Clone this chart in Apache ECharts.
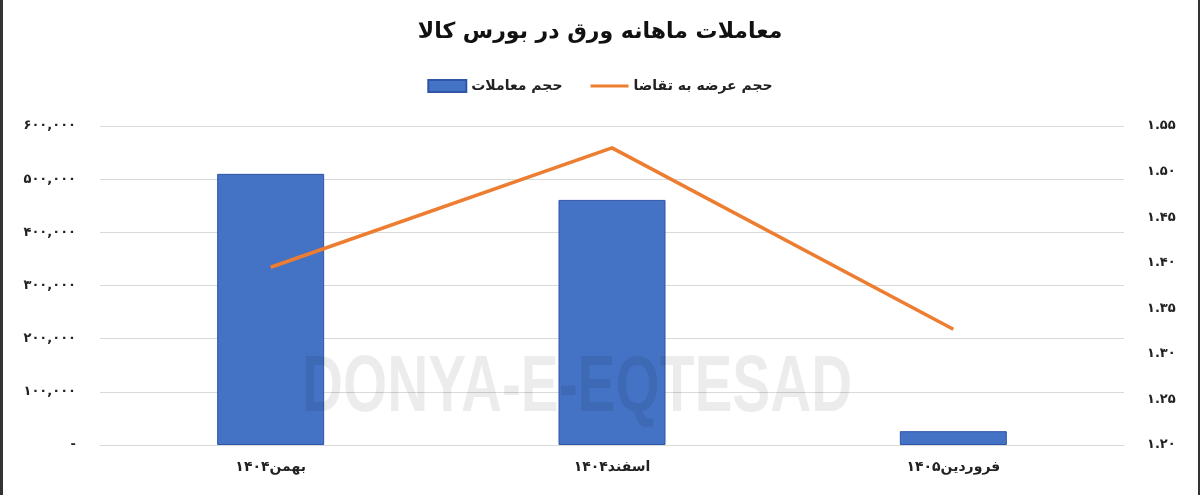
<!DOCTYPE html>
<html><head><meta charset="utf-8">
<script src="https://cdn.jsdelivr.net/npm/echarts@6/dist/echarts.min.js"></script>
<style>html,body{margin:0;padding:0;background:#fff}#c{width:1200px;height:495px}</style>
</head><body><div id="c"></div>
<script>
const title = 'معاملات ماهانه ورق در بورس کالا';
const categories = ['بهمن۱۴۰۴', 'اسفند۱۴۰۴', 'فروردین۱۴۰۵'];
const volumeName = 'حجم معاملات';
const ratioName = 'حجم عرضه به تقاضا';
const volumeValues = [510000, 461000, 26000];
const ratioValues = [1.395, 1.526, 1.327];
const leftTicks = {min: 0, max: 600000, interval: 100000};
const rightTicks = {min: 1.2, max: 1.55, interval: 0.05};
const watermark = 'DONYA-E-EQTESAD';

const fa = s => String(s).replace(/\d/g, d => '۰۱۲۳۴۵۶۷۸۹'[d]);
const FONT = "'DejaVu Sans', 'Noto Sans', sans-serif";
const chart = echarts.init(document.getElementById('c'));
chart.setOption({
  backgroundColor: '#fff',
  animation: false,
  textStyle: {fontFamily: FONT},
  title: {text: title, left: 'center', top: 16,
    textStyle: {fontFamily: FONT, fontSize: 22, fontWeight: 'bold', color: '#111'}},
  legend: {top: 74, left: 'center', itemGap: 28, itemWidth: 38, itemHeight: 12,
    textStyle: {fontFamily: FONT, fontSize: 14, fontWeight: 'bold', color: '#222'},
    data: [{name: volumeName, icon: 'rect'},
           {name: ratioName, icon: 'path://M0,0H38V3H0Z', itemStyle: {color: '#ed7d31'}}]},
  grid: {left: 100, right: 76, top: 126, bottom: 50},
  xAxis: {type: 'category', data: categories,
    axisLine: {lineStyle: {color: '#d9d9d9'}}, axisTick: {show: false},
    axisLabel: {margin: 15, fontSize: 14, fontWeight: 'bold', color: '#222'}},
  yAxis: [
    {type: 'value', min: leftTicks.min, max: leftTicks.max, interval: leftTicks.interval,
     axisLine: {show: false}, axisTick: {show: false},
     splitLine: {lineStyle: {color: '#d9d9d9'}},
     axisLabel: {margin: 24, fontSize: 13, fontWeight: 'bold', color: '#222',
       formatter: v => v === 0 ? '-' : fa(v.toLocaleString('en-US'))}},
    {type: 'value', position: 'right', min: rightTicks.min, max: rightTicks.max, interval: rightTicks.interval,
     axisLine: {show: false}, axisTick: {show: false}, splitLine: {show: false},
     axisLabel: {margin: 23, fontSize: 13, fontWeight: 'bold', color: '#222',
       formatter: v => fa(v.toFixed(2))}}
  ],
  series: [
    {name: volumeName, type: 'bar', data: volumeValues, barWidth: 107, yAxisIndex: 0,
     itemStyle: {color: '#4472c4', borderColor: '#2f55a8', borderWidth: 1}},
    {name: ratioName, type: 'line', data: ratioValues, yAxisIndex: 1, symbol: 'none',
     lineStyle: {color: '#ed7d31', width: 3.5}, itemStyle: {color: '#ed7d31'}}
  ],
  graphic: [
    {type: 'text', x: 302, y: 349, scaleX: 0.71, z: 100, silent: true,
     style: {text: watermark, font: "bold 80px 'Liberation Sans', Arial, sans-serif", fill: 'rgba(0,0,0,0.075)'}},
    {type: 'rect', left: 0, top: 0, z: 100, shape: {x: 0, y: 0, width: 3, height: 495}, style: {fill: '#333'}},
    {type: 'rect', right: 0, top: 0, z: 100, shape: {x: 0, y: 0, width: 2, height: 495}, style: {fill: '#333'}}
  ]
});
</script></body></html>
